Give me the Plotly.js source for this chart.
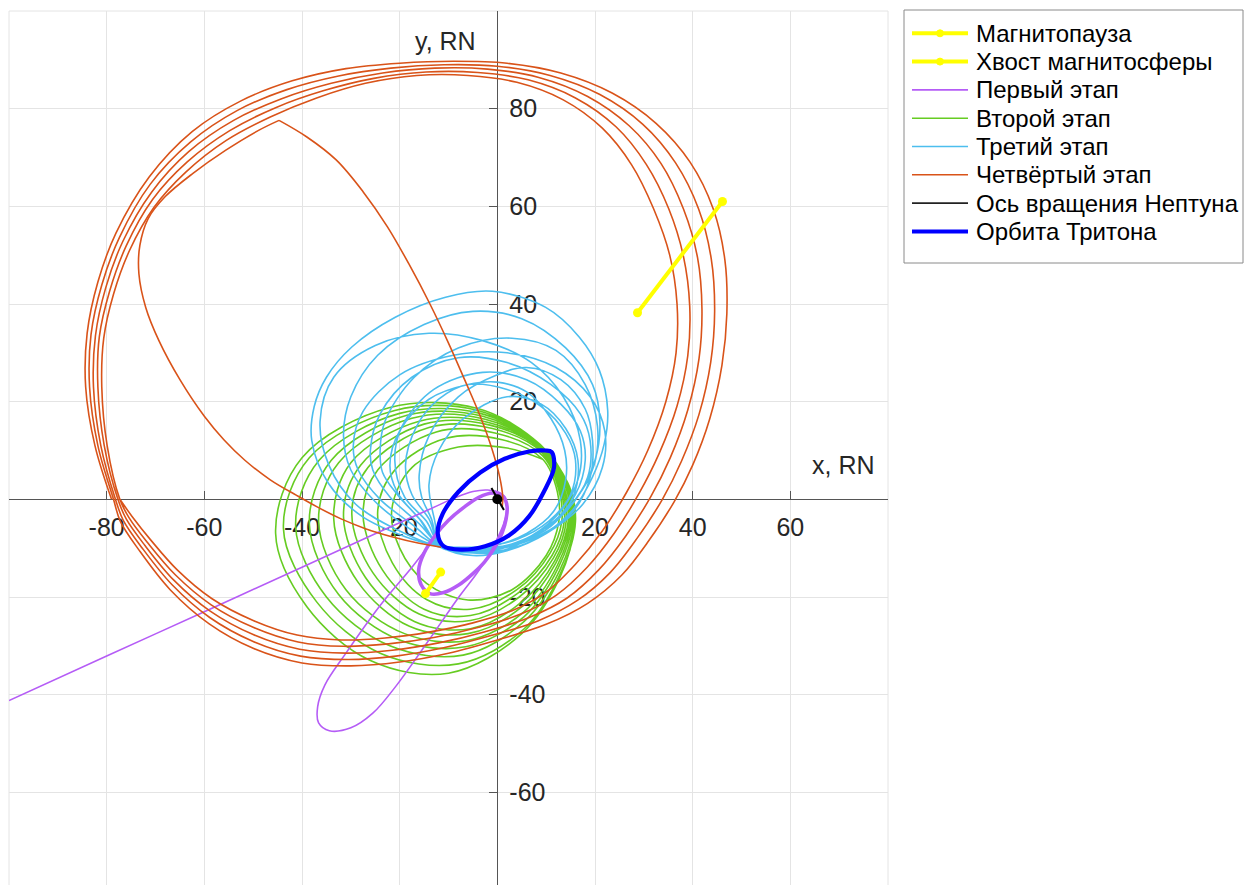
<!DOCTYPE html>
<html>
<head>
<meta charset="utf-8">
<script src="https://cdn.plot.ly/plotly-3.0.1.min.js"></script>
<style>
  html, body { margin: 0; padding: 0; overflow: hidden; background: #ffffff; }
  #chart { width: 1247px; height: 890px; }
</style>
</head>
<body>
<div id="chart"></div>
<script>
// ---------- trajectory data, [x, y] in Neptune radii ----------
const magnetopause = [[28.7, 38.2], [46.1, 61.0]];
const magnetotail = [[-14.7, -19.3], [-11.6, -14.9]];

// Stage 1: hyperbolic approach, capture ellipse, then the reduced orbit
const stage1Flyby = [[-100, -41.2], [-80, -32.1], [-60, -23.0], [-40, -13.9], [-24, -6.6], [-14, -2.1],
  [-8.5, 0.4], [-5, 1.6], [-2, 1.9], [0.6, 1.3], [1.8, -0.3], [1.9, -2.5], [1.3, -5], [0, -8],
  [-1.8, -11.5], [-4.3, -15.3], [-7.8, -19.9], [-14, -28.8], [-20.8, -38.3], [-25.5, -43.8],
  [-30, -46.8], [-34.4, -47.4], [-36.6, -45.8], [-36.8, -42.5], [-35.3, -38], [-31, -31.5],
  [-24.2, -22], [-17.4, -13.8], [-13.5, -8.8]];
const stage1Orbit = [[-1.0, 1.3], [1.2, 0.6], [2.0, -1.5], [1.8, -4.0], [1.0, -6.8], [-0.6, -10.0],
  [-2.6, -12.8], [-5.0, -15.2], [-8.0, -17.6], [-11.0, -19.1], [-13.8, -19.3], [-15.6, -17.5],
  [-16.1, -14.4], [-15.0, -11.0], [-12.8, -7.5], [-10.0, -4.3], [-6.8, -1.6], [-3.8, 0.4], [-1.0, 1.3]];

// Stage 2: orbits with periapsis near the upper tip of Triton's orbit
const stage2Orbits = [
  [[9.0, 11.0], [14.8, 2.5], [15.8, -5], [12.8, -16], [5, -27.5], [-10, -35.6], [-26, -33], [-39, -22], [-45.4, -7], [-40, 8.5], [-22, 18.8], [-4, 18.6]],
  [[8.8, 11.2], [14.6, 2.8], [16.0, -4.5], [13, -15], [5.5, -26.5], [-8, -33.7], [-24, -31.5], [-37, -21], [-43.8, -6], [-38.5, 8.5], [-21, 18.2], [-4, 18.2]],
  [[9.0, 10.9], [14.5, 2.5], [15.7, -4.5], [12.8, -14.5], [5.5, -25], [-7, -31.9], [-22, -30], [-35, -20], [-41.3, -5.5], [-36.5, 8], [-20, 17.6], [-3.5, 17.6]],
  [[9.1, 10.8], [14.3, 2.3], [15.4, -4.5], [12.5, -14], [5.5, -24], [-6.5, -30.2], [-20, -28.8], [-32.5, -19.5], [-38.5, -5], [-34, 8], [-18.5, 17.2], [-3, 17.0]],
  [[9.1, 10.6], [14.1, 2.2], [15.1, -4.5], [12.3, -13.5], [5.5, -23], [-6, -28.9], [-19, -27.5], [-31, -18.5], [-36.6, -4.5], [-32.5, 7.5], [-17.5, 16.6], [-2.5, 16.4]],
  [[9.2, 10.4], [13.8, 2.0], [14.8, -4.5], [12, -13], [5, -22], [-6, -27.5], [-18, -26], [-28.5, -17], [-33.5, -4], [-30, 7.5], [-16, 16], [-2, 15.8]],
  [[9.2, 10.2], [13.6, 1.8], [14.5, -4.5], [11.8, -12.5], [5, -21], [-5.5, -26.5], [-17, -25], [-27, -16], [-31.5, -3.5], [-28, 7], [-15, 15.4], [-1.5, 15.2]],
  [[9.2, 9.9], [13.3, 1.7], [14.1, -4.5], [11.5, -12], [4.5, -20], [-5.5, -24.8], [-16, -23.5], [-25.5, -15], [-29.8, -3], [-26.5, 6.5], [-14, 14.7], [-1, 14.5]],
  [[9.2, 9.5], [13.0, 1.6], [13.7, -4.5], [11.2, -11.5], [4.5, -19], [-5.5, -23.8], [-15, -22.5], [-23.5, -14.5], [-27.5, -3], [-24.5, 6], [-12.5, 13.8], [-0.5, 13.6]],
  [[9.3, 8.9], [12.7, 1.5], [13.2, -4.5], [10.8, -11], [4, -18.5], [-5.5, -22.5], [-14.5, -20.5], [-21.5, -13], [-24.5, -2.5], [-21, 6], [-10.5, 12.5], [1, 12.2]],
  [[9.3, 8.2], [12.3, 1.5], [12.6, -4.5], [10, -11.5], [3, -18.5], [-6, -20.6], [-14.5, -17.2], [-20, -10], [-21.6, -2], [-17.5, 6.5], [-8, 10.7], [2, 10.5]]
];

// Stage 3: orbits with periapsis near the lower tip of Triton's orbit
const stage3Orbits = [
  [[-11.5, -9.8], [-19, -7.6], [-27.7, -3.5], [-34.6, 3.3], [-38, 12], [-37.5, 19], [-35, 25], [-29.8, 31.2], [-20.9, 37.3], [-10.6, 41.4], [-1, 42.6], [9.9, 39.3], [16.8, 33.2], [20.9, 26.4], [22.6, 18.2], [21.9, 11.4], [19.5, 4.6], [15.4, -2.2], [9, -7.5], [2, -10.3], [-5, -10.8]],
  [[-11.4, -9.9], [-20, -6.5], [-29, -1], [-34.5, 7], [-36.3, 16], [-33.5, 25], [-25, 31.5], [-14, 34], [-3, 32.5], [7, 28], [13.5, 21], [17, 12], [16.5, 4], [12, -3.5], [5, -8.5], [-3, -10.8]],
  [[-11.6, -9.7], [-18, -6], [-25, -0.5], [-30, 6], [-31.5, 13], [-30, 21], [-24.5, 29.5], [-15, 35.8], [-5, 38.5], [5, 37], [14, 31], [19.5, 23.5], [21, 16], [20, 8], [16, 0], [9, -6.5], [1, -10.5], [-5, -11]],
  [[-11.5, -9.8], [-17, -5.5], [-24, 0], [-28.5, 6], [-29.5, 11], [-27.5, 18], [-20, 25.5], [-9, 29.5], [2, 30], [12, 27], [19, 21], [22, 14], [21.5, 6.5], [17.5, -1], [10, -7], [2, -10.5], [-5, -11.5]],
  [[-11.4, -9.8], [-16, -5], [-22, 0.5], [-25.5, 6], [-26, 10], [-24, 17.5], [-17.5, 25], [-8, 29], [2, 28], [11, 23.5], [17, 17.5], [19, 12], [18.5, 4.5], [14.5, -2], [8, -7], [0, -10], [-6, -10.8]],
  [[-11.6, -9.8], [-15.5, -4.5], [-20.5, 1], [-23.5, 5.5], [-24, 10], [-23, 16], [-17, 25], [-8, 31], [3, 33], [12, 30.5], [18, 23.5], [20.5, 15], [19.8, 7], [16, 0], [9.5, -6], [2, -9.5], [-5, -10.5]],
  [[-11.5, -9.7], [-14.5, -4.5], [-19, 0.5], [-21, 8], [-19.5, 15], [-13, 22.5], [-3, 26], [6, 24.5], [13, 19.5], [17, 14], [18, 8], [16, 1], [11, -5], [4, -8.8], [-3, -10.2]],
  [[-11.4, -9.7], [-14, -4], [-17.5, 1], [-18.8, 7], [-16.5, 15], [-12, 20.5], [-6, 23.5], [2, 22.5], [9, 19], [14, 13.5], [16, 8], [15, 1], [10.5, -4.5], [4, -8.2], [-3, -9.7]],
  [[-11.5, -9.9], [-13.5, -4], [-15.5, 0.5], [-16, 5], [-14, 13], [-8, 21], [0, 25.5], [6, 27], [13, 24.5], [18, 18.5], [19.5, 12], [19, 4.5], [15.5, -2.5], [8.5, -7.5], [1, -10], [-5, -10.5]],
  [[-11.5, -9.8], [-12.8, -4.5], [-14, 3], [-12, 10], [-7, 16.5], [2, 21], [9, 19.5], [14, 14.5], [16.5, 8], [15.5, 0.5], [11, -5.5], [4.5, -8.8], [-3, -10]],
  [[-11.6, -9.7], [-16, -4], [-20.5, 1.5], [-22, 7], [-20, 14], [-14, 20.5], [-6, 23.5], [0, 24], [6, 22], [11, 16.5], [13.8, 10], [14, 4], [11.5, -2.5], [6, -7], [-1, -9.5]]
];

// Stage 4: transfer arc (out to the turn and back to the planet) and the wide loops
const stage4TransferOut = [[-11.5, -9.8], [-16, -9.0], [-21.4, -7.7], [-27, -6.0], [-32, -4.0], [-37, -1.5],
  [-41.1, 0.8], [-46.5, 4.0], [-51.7, 8.0], [-56, 12.2], [-60, 17.0], [-65, 24.5], [-69.3, 32.5],
  [-72, 39.3], [-73.4, 46.2], [-73.2, 52], [-71.5, 57.5], [-68, 62], [-62.4, 66.7], [-55.6, 71.5],
  [-48.8, 75.6], [-44.7, 77.6]];
const stage4TransferBack = [[-44.7, 77.6], [-39, 74.2], [-33, 69.5], [-27.5, 63], [-22.5, 55.8],
  [-18, 48], [-13.8, 40], [-10, 32], [-6.7, 24.5], [-3.5, 17], [-1.0, 10], [0.5, 4.5], [1.1, 0.5], [1.0, -1.5]];
const stage4Loops = [
  [[-79.0, 0], [-82.4, 11], [-84.3, 23], [-84.0, 34], [-81.8, 44.5], [-78.1, 54.5], [-71.3, 66], [-62.5, 75.3],
   [-52.5, 81.6], [-42, 85.7], [-31, 88.2], [-20, 89.3], [-9, 89.7], [2, 89.3], [13, 87.3], [23.5, 83.2],
   [32.5, 77], [39.5, 69], [44.2, 59.5], [46.6, 49], [47, 38], [46, 27.5], [43.5, 16.5], [40, 7],
   [36.2, -0.5], [31, -8.5], [25.5, -15.5], [18.5, -21.3], [10, -25.6], [0, -28.8], [-10, -31.5],
   [-20, -33.3], [-30, -34.1], [-40, -33.5], [-50, -30.5], [-59, -25.5], [-67, -18.5], [-73.3, -10.5], [-77.2, -4.5]],
  [[-78.6, 0], [-81.8, 11], [-83.5, 23], [-83.2, 33.8], [-81.0, 43.9], [-77.4, 53.6], [-71.1, 64.5], [-62.8, 73.2],
   [-53.3, 79.6], [-43.1, 83.9], [-32.5, 86.7], [-21.8, 88.3], [-10.9, 89.0], [0, 88.7], [10.8, 86.8], [21, 82.9],
   [29.8, 76.8], [36.5, 68.9], [41.2, 59.5], [43.8, 49.3], [44.5, 38.5], [43.7, 28.1], [41.3, 17.4], [37.7, 7.8],
   [33.8, 0], [28.6, -8], [23.1, -15], [16.4, -20.7], [8.3, -24.9], [-1.3, -27.9], [-11, -30.4],
   [-20.8, -32.1], [-30.5, -32.8], [-40.3, -32.1], [-50, -29.1], [-58.9, -24.2], [-66.6, -17.5], [-72.7, -10], [-76.6, -4.3]],
  [[-78.2, 0], [-81.2, 11], [-82.7, 23], [-82.3, 33.5], [-80.2, 43.3], [-76.7, 52.8], [-70.8, 62.9], [-63.2, 71.2],
   [-54, 77.6], [-44.3, 82.0], [-34, 85.2], [-23.5, 87.3], [-12.8, 88.3], [-2, 88.1], [8.5, 86.4], [18.5, 82.5],
   [27, 76.5], [33.5, 68.8], [38.1, 59.5], [41, 49.5], [41.9, 39], [41.3, 28.8], [39, 18.3], [35.4, 8.5],
   [31.4, 0.5], [26.3, -7.5], [20.8, -14.4], [14.3, -20.2], [6.5, -24.2], [-2.5, -27.1], [-12, -29.4],
   [-21.5, -30.9], [-31, -31.5], [-40.5, -30.7], [-50, -27.7], [-58.8, -22.9], [-66.3, -16.5], [-72.2, -9.4], [-76, -4]],
  [[-77.7, 0], [-80.5, 11], [-81.8, 23], [-81.5, 33.3], [-79.4, 42.6], [-76.0, 51.9], [-70.6, 61.4], [-63.5, 69.1],
   [-54.8, 75.5], [-45.4, 80.2], [-35.5, 83.7], [-25.3, 86.2], [-14.6, 87.5], [-4, 87.4], [6.3, 85.9], [16, 82.2],
   [24.3, 76.3], [30.5, 68.6], [35.1, 59.5], [38.1, 49.8], [39.4, 39.5], [39, 29.4], [36.8, 19.1], [33.1, 9.3],
   [28.9, 1], [23.9, -7], [18.4, -13.9], [12.1, -19.6], [4.8, -23.5], [-3.8, -26.2], [-13, -28.3],
   [-22.3, -29.6], [-31.5, -30.1], [-40.8, -29.2], [-50, -26.2], [-58.6, -21.6], [-65.9, -15.5], [-71.6, -8.9], [-75.4, -3.8]],
  [[-77.3, 0], [-79.9, 11], [-81.0, 23], [-80.6, 33], [-78.6, 42], [-75.3, 51], [-70.3, 59.8], [-63.8, 67],
   [-55.5, 73.5], [-46.5, 78.3], [-37, 82.2], [-27, 85.2], [-16.5, 86.8], [-6, 86.8], [4, 85.4], [13.5, 81.8],
   [21.5, 76], [27.5, 68.5], [32, 59.5], [35.3, 50], [36.8, 40], [36.6, 30], [34.5, 20], [30.8, 10],
   [26.5, 1.5], [21.5, -6.5], [16, -13.3], [10, -19], [3, -22.8], [-5, -25.3], [-14, -27.2],
   [-23, -28.4], [-32, -28.8], [-41, -27.8], [-50, -24.8], [-58.5, -20.3], [-65.5, -14.5], [-71, -8.3], [-74.8, -3.5]]
];

const neptuneAxis = [[-1.2, 2.3], [1.35, -2.2]];
const neptuneCentre = [[0, 0]];
const tritonOrbit = [[11.1, 9.7], [11.6, 6.5], [9.5, 1.5], [6.5, -3.5], [2.5, -7.3], [-2.5, -9.6],
  [-7.5, -10.3], [-11.0, -9.6], [-12.2, -7.0], [-11.2, -3.0], [-8.0, 1.5], [-3.5, 5.5], [1.5, 8.3],
  [6.5, 9.8], [9.8, 10.0], [11.1, 9.7]];

const xTicks = [-100, -80, -60, -40, -20, 0, 20, 40, 60, 80];
const yTicks = [-80, -60, -40, -20, 0, 20, 40, 60, 80, 100];
const xTickHidden = [-100, 0, 80];
const yTickHidden = [-80, 0, 100];
const xAxisLabel = 'x, RN';
const yAxisLabel = 'y, RN';
const legendLabels = ['Магнитопауза', 'Хвост магнитосферы', 'Первый этап', 'Второй этап',
  'Третий этап', 'Четвёртый этап', 'Ось вращения Нептуна', 'Орбита Тритона'];

// ---------- drawing ----------
const COL = {
  yellow: '#ffff00', purple: '#b55cf6', green: '#66cc22', cyan: '#4dbeee',
  orange: '#d95319', black: '#000000', triton: '#0000ff'
};
const FONT = 'Liberation Sans, Arial, Helvetica, sans-serif';

function xy(pts) { return { x: pts.map(p => p[0]), y: pts.map(p => p[1]) }; }
function curve(pts, color, width) {
  const c = xy(pts);
  return {
    type: 'scatter', mode: 'lines', x: c.x, y: c.y,
    line: { color: color, width: width, shape: 'spline', smoothing: 1 },
    hoverinfo: 'skip', showlegend: false
  };
}
// consecutive revolutions joined into one continuous path, closed on the last one
function chain(list) {
  return list.flat().concat([list[list.length - 1][0]]);
}
function segment(pts) {
  const c = xy(pts);
  return {
    type: 'scatter', mode: 'lines+markers', x: c.x, y: c.y,
    line: { color: COL.yellow, width: 4 },
    marker: { color: COL.yellow, size: 9, symbol: 'circle' },
    hoverinfo: 'skip', showlegend: false
  };
}

const traces = [
  curve(chain(stage2Orbits), COL.green, 1.6),
  curve(chain(stage3Orbits), COL.cyan, 1.6),
  curve(stage1Flyby, COL.purple, 1.6),
  curve(stage1Orbit, COL.purple, 3.6),
  curve(chain(stage4Loops), COL.orange, 1.6),
  curve(stage4TransferOut, COL.orange, 1.6),
  curve(stage4TransferBack, COL.orange, 1.6),
  segment(magnetopause),
  segment(magnetotail),
  curve(tritonOrbit, COL.triton, 4.2),
  {
    type: 'scatter', mode: 'lines', ...xy(neptuneAxis),
    line: { color: COL.black, width: 2 }, hoverinfo: 'skip', showlegend: false
  },
  {
    type: 'scatter', mode: 'markers', ...xy(neptuneCentre),
    marker: { color: COL.black, size: 10 }, hoverinfo: 'skip', showlegend: false
  }
];

// plot area in pixels: left 9, right 888, top 11, bottom 890
const PL = 9, PR = 888, PT = 11, PB = 890;
const px = v => (v - PL) / (PR - PL);
const py = v => (PB - v) / (PB - PT);

const xRange = [-100, 80], yRange = [-80, 100];
const axisCommon = {
  ticks: 'inside', ticklen: 8, tickwidth: 1, tickcolor: '#555555',
  showline: true, linecolor: '#555555', linewidth: 1,
  showgrid: true, gridcolor: '#e4e4e4', gridwidth: 1,
  zeroline: false, layer: 'below traces', anchor: 'free',
  tickfont: { family: FONT, size: 25, color: '#262626' },
  tickmode: 'array', fixedrange: true
};

const shapes = [
  { type: 'rect', xref: 'paper', yref: 'paper', x0: 0, x1: 1, y0: 0, y1: 1,
    line: { color: '#e4e4e4', width: 1 }, layer: 'below' }
];
const annotations = [
  { xref: 'paper', yref: 'paper', x: px(877), y: py(465), xanchor: 'right', yanchor: 'middle',
    text: xAxisLabel, showarrow: false, font: { family: FONT, size: 25, color: '#262626' } },
  { xref: 'paper', yref: 'paper', x: px(478), y: py(41), xanchor: 'right', yanchor: 'middle',
    text: yAxisLabel, showarrow: false, font: { family: FONT, size: 25, color: '#262626' } }
];

// hand-built legend box
const legendStyle = [
  { color: COL.yellow, width: 4, dot: true },
  { color: COL.yellow, width: 4, dot: true },
  { color: COL.purple, width: 1.6 },
  { color: COL.green, width: 1.6 },
  { color: COL.cyan, width: 1.6 },
  { color: COL.orange, width: 1.6 },
  { color: '#222222', width: 1.6 },
  { color: COL.triton, width: 4 }
];
shapes.push({ type: 'rect', xref: 'paper', yref: 'paper', x0: px(904), x1: px(1243), y0: py(263), y1: py(10),
  line: { color: '#8a8a8a', width: 1 }, fillcolor: '#ffffff', layer: 'above' });
legendLabels.forEach((label, i) => {
  const rowY = 33.3 + 28.3 * i;
  const st = legendStyle[i];
  shapes.push({ type: 'line', xref: 'paper', yref: 'paper', x0: px(912), x1: px(968), y0: py(rowY), y1: py(rowY),
    line: { color: st.color, width: st.width }, layer: 'above' });
  if (st.dot) {
    shapes.push({ type: 'circle', xref: 'paper', yref: 'paper', x0: px(936.5), x1: px(943.5),
      y0: py(rowY + 3.5), y1: py(rowY - 3.5), line: { color: st.color, width: 1 }, fillcolor: st.color, layer: 'above' });
  }
  annotations.push({ xref: 'paper', yref: 'paper', x: px(974), y: py(rowY), xanchor: 'left', yanchor: 'middle',
    text: label, showarrow: false, font: { family: FONT, size: 24, color: '#000000' } });
});

const layout = {
  width: 1247, height: 890,
  margin: { l: PL, r: 1247 - PR, t: PT, b: 890 - PB, pad: 0 },
  paper_bgcolor: '#ffffff', plot_bgcolor: '#ffffff',
  showlegend: false,
  xaxis: Object.assign({}, axisCommon, {
    range: xRange, position: (0 - yRange[0]) / (yRange[1] - yRange[0]), side: 'bottom',
    tickvals: xTicks, ticktext: xTicks.map(v => xTickHidden.includes(v) ? '' : String(v)),
    ticklabelstandoff: 6
  }),
  yaxis: Object.assign({}, axisCommon, {
    range: yRange, position: (0 - xRange[0]) / (xRange[1] - xRange[0]), side: 'right',
    tickvals: yTicks, ticktext: yTicks.map(v => yTickHidden.includes(v) ? '' : String(v)),
    ticklabelstandoff: 6
  }),
  shapes: shapes,
  annotations: annotations
};

Plotly.newPlot('chart', traces, layout, { staticPlot: true, displayModeBar: false });
</script>
</body>
</html>
